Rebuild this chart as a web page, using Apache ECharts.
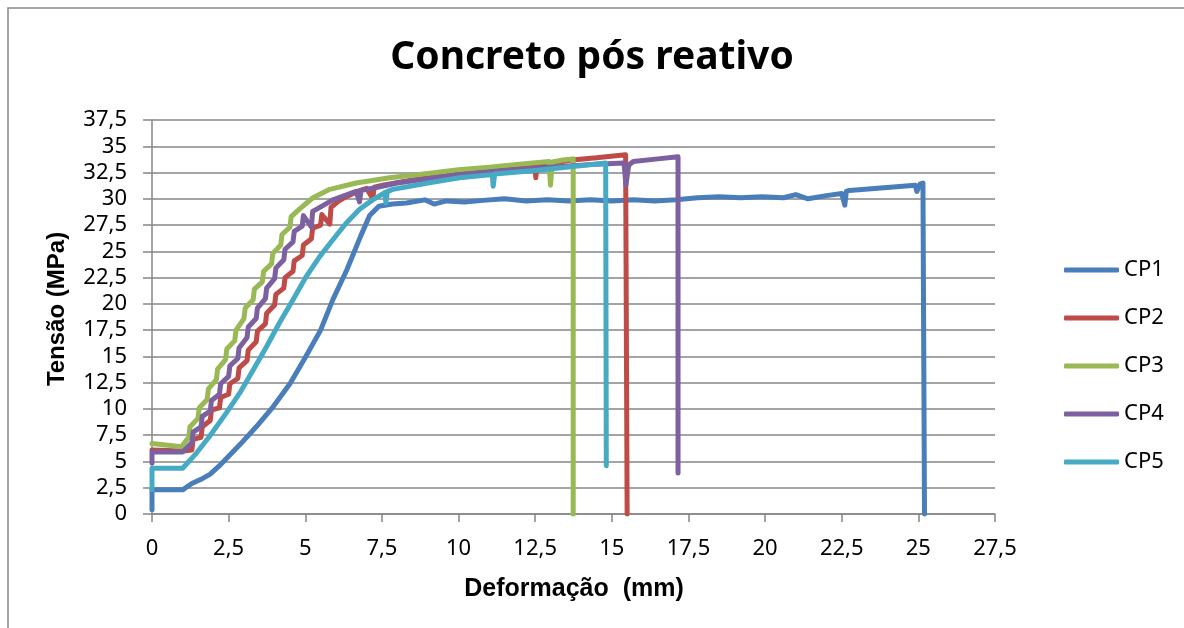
<!DOCTYPE html>
<html>
<head>
<meta charset="utf-8">
<script src="https://cdn.jsdelivr.net/npm/echarts@6/dist/echarts.min.js"></script>
<style>
html,body{margin:0;padding:0;background:#fff;}
#chart{width:1184px;height:628px;}
</style>
</head>
<body>
<div id="chart"></div>
<script>
const seriesNames = ['CP1', 'CP2', 'CP3', 'CP4', 'CP5'];
const seriesColors = ['#4a7ebb', '#be4b48', '#98b954', '#7d60a0', '#46aac5'];

const cp1X = [0, 0, 1.0, 1.3, 1.6, 1.9, 2.2, 2.5, 2.9, 3.4, 3.95, 4.5, 5.0, 5.5, 5.9, 6.35, 6.8, 7.1, 7.4, 7.85, 8.3, 8.9, 9.2, 9.6, 10.2, 10.8, 11.5, 12.2, 12.9, 13.6, 14.3, 15.0, 15.7, 16.4, 17.1, 17.8, 18.5, 19.2, 19.9, 20.6, 21.0, 21.4, 22.0, 22.5, 22.6, 22.65, 22.75, 24.9, 24.95, 25.05, 25.15, 25.2, 25.2];
const cp1Y = [0.4, 2.3, 2.3, 2.9, 3.3, 3.8, 4.6, 5.5, 6.7, 8.3, 10.2, 12.4, 14.9, 17.5, 20.4, 23.2, 26.4, 28.4, 29.3, 29.5, 29.6, 29.9, 29.5, 29.8, 29.7, 29.85, 30.0, 29.8, 29.9, 29.8, 29.9, 29.8, 29.9, 29.8, 29.9, 30.1, 30.2, 30.1, 30.2, 30.1, 30.4, 30.0, 30.3, 30.5, 29.4, 30.7, 30.8, 31.3, 30.7, 31.4, 31.5, 31.4, 0];

const cp2X = [0, 1.0, 1.3, 1.34, 1.6, 1.64, 1.9, 1.94, 2.2, 2.24, 2.5, 2.54, 2.8, 2.84, 3.1, 3.14, 3.4, 3.44, 3.7, 3.74, 4.0, 4.04, 4.3, 4.34, 4.6, 4.64, 4.9, 4.94, 5.2, 5.24, 5.5, 5.54, 5.8, 5.84, 6.1, 6.34, 6.7, 7.0, 7.2, 7.25, 7.53, 8.5, 10.0, 11.0, 12.0, 12.5, 12.52, 12.56, 13.7, 14.5, 15.45, 15.5, 15.5];
const cp2Y = [6.1, 6.0, 6.1, 7.1, 7.3, 8.3, 8.9, 9.9, 10.1, 11.1, 11.4, 12.4, 12.9, 13.9, 14.6, 15.6, 16.4, 17.4, 18.1, 19.1, 19.9, 20.9, 21.5, 22.5, 23.1, 24.1, 24.6, 25.6, 26.2, 27.2, 27.5, 28.5, 27.6, 29.2, 29.8, 30.2, 30.7, 31.0, 30.0, 31.1, 31.3, 31.8, 32.4, 32.7, 33.0, 33.15, 32.0, 33.2, 33.7, 33.9, 34.2, 34.1, 0];

const cp3X = [0, 0.96, 1.2, 1.24, 1.5, 1.54, 1.8, 1.84, 2.1, 2.14, 2.4, 2.44, 2.7, 2.74, 3.0, 3.04, 3.3, 3.34, 3.6, 3.64, 3.9, 3.94, 4.2, 4.24, 4.5, 4.54, 4.8, 5.25, 5.8, 6.66, 7.75, 9.0, 10.0, 11.0, 12.0, 12.95, 13.0, 13.06, 13.4, 13.74, 13.74];
const cp3Y = [6.7, 6.4, 7.3, 8.3, 9.1, 10.1, 10.9, 11.9, 12.8, 13.8, 14.7, 15.7, 16.5, 17.5, 18.6, 19.6, 20.4, 21.4, 22.1, 23.1, 23.8, 24.8, 25.6, 26.6, 27.3, 28.3, 29.0, 30.1, 30.9, 31.5, 32.0, 32.4, 32.76, 33.0, 33.3, 33.55, 31.3, 33.5, 33.7, 33.8, 0];

const cp4X = [0, 0, 1.0, 1.3, 1.34, 1.6, 1.64, 1.9, 1.94, 2.2, 2.24, 2.5, 2.54, 2.8, 2.84, 3.1, 3.14, 3.4, 3.44, 3.7, 3.74, 4.0, 4.04, 4.3, 4.34, 4.6, 4.64, 4.9, 4.94, 5.2, 5.24, 5.36, 5.9, 6.66, 6.77, 6.82, 7.2, 8.0, 9.0, 10.0, 11.5, 13.0, 14.5, 15.4, 15.46, 15.55, 15.7, 16.5, 17.16, 17.16];
const cp4Y = [4.85, 5.9, 5.9, 6.8, 7.8, 8.3, 9.3, 9.8, 10.8, 11.4, 12.4, 13.1, 14.1, 14.8, 15.8, 16.8, 17.8, 18.6, 19.6, 20.5, 21.5, 22.4, 23.4, 24.2, 25.2, 25.9, 26.9, 27.4, 28.4, 27.3, 28.8, 29.0, 29.9, 30.7, 29.7, 30.8, 31.0, 31.5, 31.9, 32.3, 32.7, 33.0, 33.3, 33.4, 31.3, 33.2, 33.55, 33.8, 34.0, 3.9];

const cp5X = [0, 0, 1.0, 1.45, 1.88, 2.42, 2.86, 3.3, 3.73, 4.16, 4.6, 5.03, 5.47, 5.9, 6.34, 6.77, 7.2, 7.6, 7.63, 7.68, 7.86, 9.0, 10.03, 11.1, 11.13, 11.18, 12.5, 13.5, 14.8, 14.82];
const cp5Y = [2.3, 4.35, 4.35, 5.8, 7.4, 9.6, 11.5, 13.7, 15.9, 18.2, 20.4, 22.6, 24.5, 26.1, 27.7, 29.0, 29.9, 30.6, 29.6, 30.7, 30.9, 31.5, 32.0, 32.3, 31.2, 32.35, 32.7, 33.0, 33.4, 4.6];

const allX = [cp1X, cp2X, cp3X, cp4X, cp5X];
const allY = [cp1Y, cp2Y, cp3Y, cp4Y, cp5Y];

const titleText = 'Concreto pós reativo';
const xTitle = 'Deformação  (mm)';
const yTitle = 'Tensão (MPa)';

const fmt = v => String(v).replace('.', ',');
const gray = '#868686';

const chart = echarts.init(document.getElementById('chart'));
chart.setOption({
  animation: false,
  backgroundColor: '#fff',
  grid: { left: 152, right: 189, top: 120, bottom: 114, containLabel: false },
  graphic: [
    { type: 'rect', shape: { x: 8, y: 8, width: 1300, height: 800 }, style: { fill: 'none', stroke: gray, lineWidth: 1.5 }, silent: true, z: -1 },
    { type: 'text', style: { text: titleText, x: 592, y: 58, align: 'center', verticalAlign: 'middle', font: 'bold 39px "Noto Sans"', fill: '#000' } },
    { type: 'text', style: { text: xTitle, x: 574, y: 589, align: 'center', verticalAlign: 'middle', font: 'bold 25px "Liberation Sans"', fill: '#000' } },
    { type: 'text', x: 57, y: 309, rotation: Math.PI / 2, style: { text: yTitle, x: 0, y: 0, align: 'center', verticalAlign: 'middle', font: 'bold 24px "Liberation Sans"', fill: '#000' } }
  ],
  legend: {
    orient: 'vertical',
    left: 1059,
    top: 254,
    itemWidth: 55,
    itemHeight: 5,
    itemGap: 26,
    icon: 'roundRect',
    textStyle: { fontFamily: 'Noto Sans', fontSize: 22, color: '#000', lineHeight: 22, padding: [0, 0, 0, 0] },
    data: seriesNames
  },
  xAxis: {
    type: 'value', min: 0, max: 27.5, interval: 2.5,
    axisLine: { show: true, lineStyle: { color: gray, width: 1.5 } },
    axisTick: { show: true, length: 8, inside: false, lineStyle: { color: gray, width: 1.5 } },
    axisLabel: { formatter: fmt, margin: 24, fontFamily: 'Noto Sans', fontSize: 22, color: '#000' },
    splitLine: { show: false }
  },
  yAxis: {
    type: 'value', min: 0, max: 37.5, interval: 2.5,
    axisLine: { show: true, lineStyle: { color: gray, width: 1.5 } },
    axisTick: { show: true, length: 9, inside: false, lineStyle: { color: gray, width: 1.5 } },
    axisLabel: { formatter: fmt, margin: 25, fontFamily: 'Noto Sans', fontSize: 22, color: '#000' },
    splitLine: { show: true, lineStyle: { color: gray, width: 1.5 } }
  },
  series: seriesNames.map((name, i) => ({
    name: name,
    type: 'line',
    data: allX[i].map((x, j) => [x, allY[i][j]]),
    showSymbol: false,
    symbol: 'none',
    clip: false,
    color: seriesColors[i],
    lineStyle: { width: 5, color: seriesColors[i], join: 'round', cap: 'round' },
    itemStyle: { color: seriesColors[i] }
  }))
});
</script>
</body>
</html>
